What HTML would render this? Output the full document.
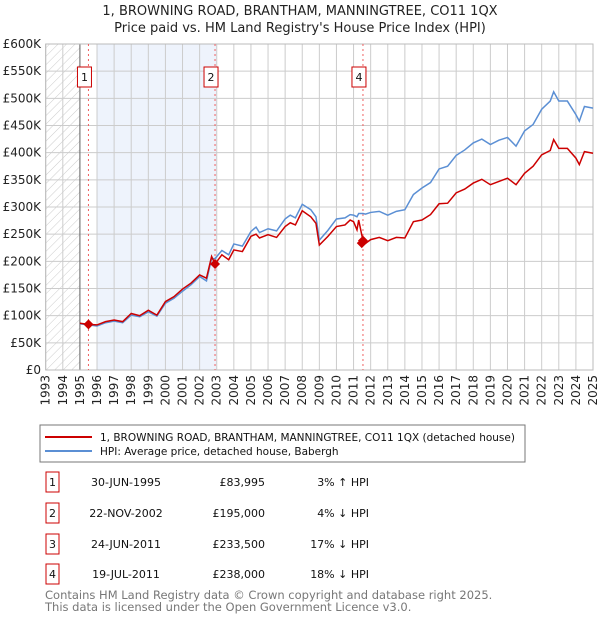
<!DOCTYPE html>
<html><head><meta charset="utf-8"><style>
body{margin:0;background:#fff;font-family:"DejaVu Sans","Liberation Sans",sans-serif;}
#wrap{position:relative;width:600px;height:620px;overflow:hidden}
</style></head><body>
<div id="wrap">
<svg id="chart" width="600" height="620">
<defs><pattern id="hatch" width="6" height="6" patternUnits="userSpaceOnUse" patternTransform="rotate(45)"><line x1="0" y1="0" x2="0" y2="6" stroke="#ccc" stroke-width="1"/></pattern></defs>
<text x="300" y="15" text-anchor="middle" font-size="13" fill="#222">1, BROWNING ROAD, BRANTHAM, MANNINGTREE, CO11 1QX</text>
<text x="300" y="32" text-anchor="middle" font-size="13" fill="#222">Price paid vs. HM Land Registry's House Price Index (HPI)</text>
<g id="g"></g>
<rect x="40" y="425" width="485" height="37" fill="none" stroke="#777"/>
<line x1="45" y1="437" x2="92" y2="437" stroke="#cc0000" stroke-width="2"/>
<text x="100" y="441" font-size="10.5" fill="#111">1, BROWNING ROAD, BRANTHAM, MANNINGTREE, CO11 1QX (detached house)</text>
<line x1="45" y1="451" x2="92" y2="451" stroke="#5b8fd4" stroke-width="2"/>
<text x="100" y="455" font-size="10.5" fill="#111">HPI: Average price, detached house, Babergh</text>
<g id="tbl" font-size="11" fill="#111"></g>
<text x="45" y="599" font-size="11.5" fill="#777">Contains HM Land Registry data © Crown copyright and database right 2025.</text>
<text x="45" y="611" font-size="11.5" fill="#777">This data is licensed under the Open Government Licence v3.0.</text>
</svg>
</div>
<script>
const yTicks=[0,50000,100000,150000,200000,250000,300000,350000,400000,450000,500000,550000,600000];
const yTickLabels=["£0","£50K","£100K","£150K","£200K","£250K","£300K","£350K","£400K","£450K","£500K","£550K","£600K"];
const years=[1993,1994,1995,1996,1997,1998,1999,2000,2001,2002,2003,2004,2005,2006,2007,2008,2009,2010,2011,2012,2013,2014,2015,2016,2017,2018,2019,2020,2021,2022,2023,2024,2025];
const dates=[1995,1995.5,1996,1996.5,1997,1997.5,1998,1998.5,1999,1999.5,2000,2000.5,2001,2001.5,2002,2002.4,2002.7,2002.9,2003.3,2003.7,2004,2004.5,2005,2005.3,2005.5,2006,2006.5,2007,2007.3,2007.6,2008,2008.5,2008.8,2009,2009.5,2010,2010.5,2010.8,2011,2011.2,2011.3,2011.55,2011.7,2012,2012.5,2013,2013.5,2014,2014.5,2015,2015.5,2016,2016.5,2017,2017.5,2018,2018.5,2019,2019.5,2020,2020.5,2021,2021.5,2022,2022.5,2022.7,2023,2023.5,2024,2024.2,2024.5,2025];
const propertyK=[86,84,83,89,92,89,104,100,110,101,126,135,149,160,175,169,209,195,212,203,221,218,246,250,243,249,244,264,271,267,293,282,270,230,246,264,267,276,273,258,276,238,233,240,244,238,244,243,273,276,286,306,307,326,333,344,351,341,347,353,341,362,375,396,404,424,408,408,390,378,402,399];
const hpiK=[85,83,81,87,90,87,101,98,107,99,123,132,145,157,172,164,205,205,220,212,232,228,255,263,253,260,256,278,285,280,305,295,282,239,257,278,280,286,285,282,288,288,287,290,292,285,292,295,323,335,345,370,375,395,405,418,425,415,423,428,412,440,452,480,495,512,495,495,470,458,485,482];
const saleDates=[1995.5,2002.9,2011.48,2011.55];
const salePrices=[83995,195000,233500,238000];
const saleLabels=["1","2","3","4"];
const saleDateText=["30-JUN-1995","22-NOV-2002","24-JUN-2011","19-JUL-2011"];
const salePriceText=["£83,995","£195,000","£233,500","£238,000"];
const saleHpiText=["3% ↑ HPI","4% ↓ HPI","17% ↓ HPI","18% ↓ HPI"];
const X0=45.7,X1=593,Y0=370,Y1=44;
const xs=t=>X0+(t-1993)/(2025-1993)*(X1-X0);
const ys=v=>Y0-v/600000*(Y0-Y1);
const NS="http://www.w3.org/2000/svg";
const g=document.getElementById('g');
function mk(tag,at,parent){const e=document.createElementNS(NS,tag);for(const k in at)e.setAttribute(k,at[k]);(parent||g).appendChild(e);return e;}
let e;
e=mk('rect',{x:X0,y:Y1,width:X1-X0,height:Y0-Y1,fill:'#fff'});


e=mk('rect',{x:xs(1993),y:Y1,width:xs(1995)-xs(1993),height:Y0-Y1,fill:'url(#hatch)'});


e=mk('rect',{x:xs(1996),y:Y1,width:xs(2003)-xs(1996),height:Y0-Y1,fill:'#eef3fc'});


years.forEach(yr=>{e=mk('line',{x1:xs(yr),x2:xs(yr),y1:Y1,y2:Y0,stroke:'#ccc'});


e=mk('text',{transform:`translate(${xs(yr)+4},375) rotate(-90)`,'text-anchor':'end','font-size':12,fill:'#222'});e.textContent=yr;

});
yTicks.forEach((v,i)=>{e=mk('line',{x1:X0,x2:X1,y1:ys(v),y2:ys(v),stroke:'#ccc'});


e=mk('text',{x:41,y:ys(v)+4,'text-anchor':'end','font-size':12,fill:'#222'});e.textContent=yTickLabels[i];

});
e=mk('line',{x1:xs(1995),x2:xs(1995),y1:Y1,y2:Y0,stroke:'#666'});


e=mk('rect',{x:X0,y:Y1,width:X1-X0,height:Y0-Y1,fill:'none',stroke:'#bbb'});


[0,1,3].forEach(i=>{e=mk('line',{x1:xs(saleDates[i]),x2:xs(saleDates[i]),y1:Y1,y2:Y0,stroke:'#f06060','stroke-dasharray':'2,3'});

});
e=mk('polyline',{points:dates.map((d,i)=>xs(d)+','+ys(hpiK[i]*1000)).join(' '),fill:'none',stroke:'#5b8fd4','stroke-width':1.5});


e=mk('polyline',{points:dates.map((d,i)=>xs(d)+','+ys(propertyK[i]*1000)).join(' '),fill:'none',stroke:'#cc0000','stroke-width':1.5});


saleDates.forEach((d,i)=>{const cx=xs(d),cy=ys(salePrices[i]);
e=mk('polygon',{points:`${cx},${cy-5} ${cx+5},${cy} ${cx},${cy+5} ${cx-5},${cy}`,fill:'#cc0000'});

});
[0,1,3].forEach(i=>{const cx=xs(saleDates[i])-4;
e=mk('rect',{x:cx-7,y:67,width:14,height:20,fill:'#fff',stroke:'#cc0000'});


e=mk('text',{x:cx,y:81,'text-anchor':'middle','font-size':11,fill:'#111'});e.textContent=saleLabels[i];

});
const t=document.getElementById('tbl');
const rowY=[483,514,545,575];
saleLabels.forEach((l,i)=>{const y=rowY[i];
e=mk('rect',{x:46,y:y-11,width:13,height:20,fill:'#fff',stroke:'#cc0000'},t);


e=mk('text',{x:52.5,y:y+3,'text-anchor':'middle'},t);e.textContent=l;


e=mk('text',{x:126,y:y+3,'text-anchor':'middle'},t);e.textContent=saleDateText[i];


e=mk('text',{x:265,y:y+3,'text-anchor':'end'},t);e.textContent=salePriceText[i];


e=mk('text',{x:369,y:y+3,'text-anchor':'end'},t);e.textContent=saleHpiText[i];

});
</script>
</body></html>
